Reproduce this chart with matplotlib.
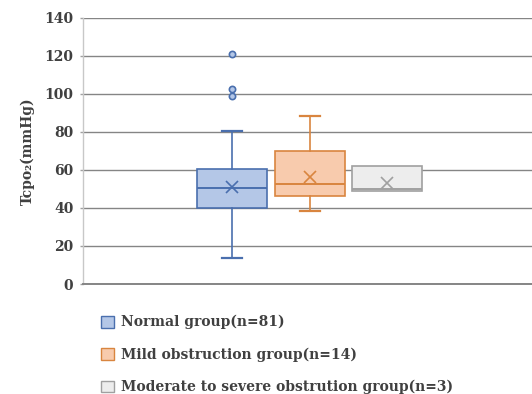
import matplotlib
matplotlib.use("Agg")
import matplotlib.pyplot as plt
from matplotlib.patches import Patch

# ---- data ----
groups = ["Normal group(n=81)", "Mild obstruction group(n=14)",
          "Moderate to severe obstrution group(n=3)"]
q1 = [40.0, 46.2, 48.7]
median = [50.6, 52.7, 49.9]
q3 = [60.6, 70.1, 62.0]
whis_low = [13.6, 38.2, 48.7]
whis_high = [80.6, 88.5, 62.0]
means = [51.0, 56.0, 53.3]
outliers = [[120.6, 102.7, 98.5], [], []]
yticks = [0, 20, 40, 60, 80, 100, 120, 140]

# ---- styles ----
fills = ["#B4C7E7", "#F8CBAD", "#EDEDED"]
edges = ["#4A6FAE", "#D9853F", "#A0A0A0"]
positions = [0.332, 0.506, 0.677]
box_w = 0.156
serif = ["DejaVu Serif"]
txt_col = "#404040"
fs = 10

fig = plt.figure(figsize=(5.32, 3.94), dpi=100)
ax = fig.add_axes([83 / 532, 1 - 284 / 394, 449 / 532, 266.5 / 394])

for i in range(len(groups)):
    stats = [dict(label=groups[i], q1=q1[i], med=median[i], q3=q3[i],
                  whislo=whis_low[i], whishi=whis_high[i], mean=means[i],
                  fliers=outliers[i])]
    ec = edges[i]
    ax.bxp(stats, positions=[positions[i]], widths=box_w, patch_artist=True,
           showmeans=True, showcaps=(whis_low[i] != q1[i]), manage_ticks=False,
           boxprops=dict(facecolor=fills[i], edgecolor=ec, linewidth=1.2),
           medianprops=dict(color=ec, linewidth=1.4),
           whiskerprops=dict(color=ec, linewidth=1.2),
           capprops=dict(color=ec, linewidth=1.6),
           capwidths=0.045,
           meanprops=dict(marker="x", markeredgecolor=ec, markersize=9,
                          markeredgewidth=1.2),
           flierprops=dict(marker="o", markerfacecolor=fills[i],
                           markeredgecolor=ec, markersize=4.5,
                           markeredgewidth=1.2))

ax.set_xlim(0, 1)
ax.set_ylim(0, 140)
ax.set_yticks(yticks)
ax.set_xticks([])
ax.set_axisbelow(True)
ax.yaxis.grid(True, color="#858585", linewidth=1.0)
for s in ["right", "top"]:
    ax.spines[s].set_visible(False)
ax.spines["left"].set_color("#C8C8C8")
ax.spines["left"].set_linewidth(1.0)
ax.spines["bottom"].set_color("#858585")
ax.spines["bottom"].set_linewidth(1.4)
ax.tick_params(axis="y", length=2.5, width=1.0, color="#A0A0A0", pad=4.5)
for lbl in ax.get_yticklabels():
    lbl.set_fontfamily(serif)
    lbl.set_fontweight("bold")
    lbl.set_fontsize(fs)
    lbl.set_color(txt_col)

ax.set_ylabel("Tcpo\u2082(mmHg)", fontfamily=serif, fontweight="bold",
              fontsize=fs, color=txt_col, labelpad=7)

handles = [Patch(facecolor=fills[i], edgecolor=edges[i], linewidth=1.0)
           for i in range(len(groups))]
leg = fig.legend(handles, groups, loc="upper left",
                 bbox_to_anchor=(101 / 532, 1 - 315 / 394), frameon=False,
                 prop=dict(family=serif, weight="bold", size=fs),
                 handlelength=0.95, handleheight=0.95, handletextpad=0.5,
                 labelspacing=1.3, borderaxespad=0, borderpad=0)
for t in leg.get_texts():
    t.set_color(txt_col)

fig.savefig("out.png", dpi=100)
